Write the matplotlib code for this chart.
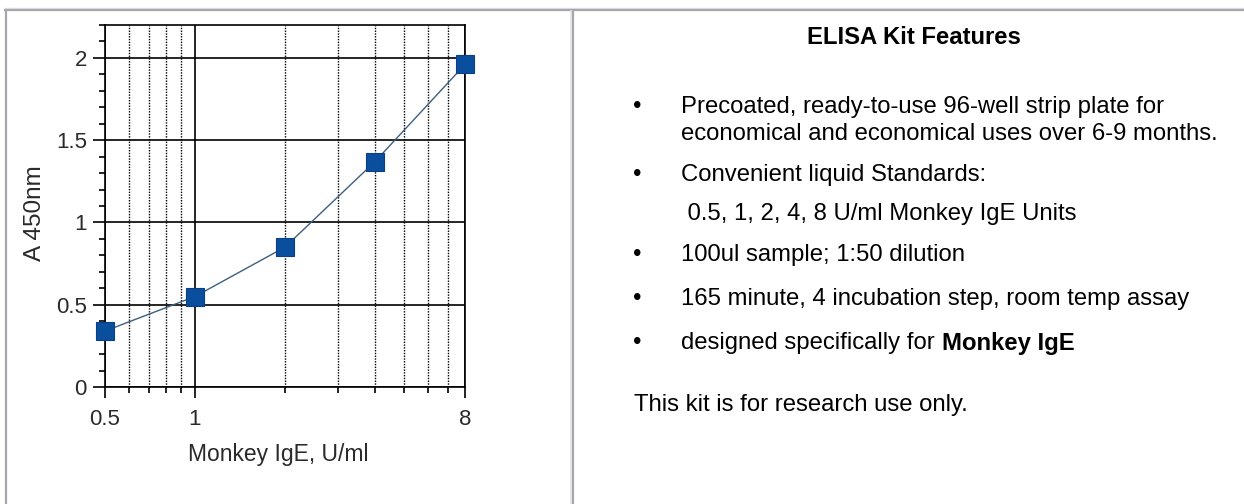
import matplotlib.pyplot as plt
from matplotlib.ticker import FixedLocator, NullFormatter, MultipleLocator
from matplotlib.lines import Line2D

# standard curve
conc = [0.5, 1, 2, 4, 8]
od450 = [0.34, 0.55, 0.85, 1.37, 1.96]

x_major = [0.5, 1, 8]
x_minor = [0.6, 0.7, 0.8, 0.9, 2, 3, 4, 5, 6, 7]
x_ticklabels = ['0.5', '1', '8']
y_ticks = [0, 0.5, 1, 1.5, 2]
y_ticklabels = ['0', '0.5', '1', '1.5', '2']

title = 'ELISA Kit Features'
bullet_lines = [
    ['Precoated, ready-to-use 96-well strip plate for',
     'economical and economical uses over 6-9 months.'],
    ['Convenient liquid Standards:'],
]
standards_line = ' 0.5, 1, 2, 4, 8 U/ml Monkey IgE Units'
more_bullets = ['100ul sample; 1:50 dilution',
                '165 minute, 4 incubation step, room temp assay']
last_bullet = ('designed specifically for', 'Monkey IgE')
footer = 'This kit is for research use only.'

W, H = 1244, 504
plt.rcParams['font.family'] = ['Liberation Sans', 'DejaVu Sans']
fig = plt.figure(figsize=(W / 100, H / 100), dpi=100)


def fx(x):
    return x / W


def fy(y):
    return 1 - y / H


# table borders
gray = '#a6a6ae'
light = '#e4e4e8'
fig.add_artist(Line2D([fx(5), 1], [fy(8), fy(8)], color=light, lw=1))
fig.add_artist(Line2D([fx(5), 1], [fy(10), fy(10)], color=gray, lw=1.6))
fig.add_artist(Line2D([fx(6), fx(6)], [fy(10), 0], color=gray, lw=1.6))
fig.add_artist(Line2D([fx(570.5), fx(570.5)], [fy(11), 0], color=light, lw=1.2))
fig.add_artist(Line2D([fx(572.5), fx(572.5)], [fy(11), 0], color=gray, lw=1.6))

# chart
ax = fig.add_axes([fx(105), fy(387), 360 / W, 362 / H])
ax.plot(conc, od450, color='#3d5f7f', lw=1, marker='s', ms=12.5,
        mfc='#0a4e9e', mec='#0a3f85', mew=0.8, clip_on=False, zorder=5)
ax.set_xscale('log')
ax.set_xlim(0.5, 8)
ax.set_ylim(0, 2.2)
ax.xaxis.set_major_locator(FixedLocator(x_major))
ax.xaxis.set_minor_locator(FixedLocator(x_minor))
ax.xaxis.set_minor_formatter(NullFormatter())
ax.set_xticklabels(x_ticklabels)
ax.set_yticks(y_ticks)
ax.set_yticklabels(y_ticklabels)
ax.yaxis.set_minor_locator(MultipleLocator(0.1))

ax.grid(which='major', axis='both', color='black', lw=1.2)
ax.grid(which='minor', axis='x', color='black', lw=1, ls=(0, (1, 1)))
for s in ax.spines.values():
    s.set_linewidth(1.2)
ax.tick_params(which='major', length=9, width=1.2, labelsize=16,
               labelcolor='#2a2a2a', pad=4)
ax.tick_params(axis='x', which='major', length=8, pad=8)
ax.tick_params(which='minor', length=4, width=1.2)
ax.set_xlabel('Monkey IgE, U/ml', fontsize=16.5, color='#2a2a2a')
ax.set_ylabel('A 450nm', fontsize=17.5, color='#2a2a2a')
ax.xaxis.set_label_coords(0.48, -0.155)
ax.yaxis.set_label_coords(-0.165, 0.48)

# features text
fs = 17.2
fig.text(fx(914), fy(35), title, fontsize=fs, weight='bold',
         ha='center', va='center_baseline')
ys = [105, 173]
for y0, lines in zip(ys, bullet_lines):
    fig.text(fx(637), fy(y0), '\u2022', fontsize=fs, ha='center',
             va='center_baseline')
    for i, ln in enumerate(lines):
        fig.text(fx(681), fy(y0 + 27 * i), ln, fontsize=fs,
                 va='center_baseline')
fig.text(fx(681), fy(211), standards_line, fontsize=fs, va='center_baseline')
for y0, ln in zip([253, 296], more_bullets):
    fig.text(fx(637), fy(y0), '\u2022', fontsize=fs, ha='center',
             va='center_baseline')
    fig.text(fx(681), fy(y0), ln, fontsize=fs, va='center_baseline')

fig.text(fx(637), fy(341), '\u2022', fontsize=fs, ha='center',
         va='center_baseline')
t = fig.text(fx(681), fy(341), last_bullet[0], fontsize=fs,
             va='center_baseline')
bb = t.get_window_extent(fig.canvas.get_renderer())
fig.text((bb.x1 + 7) / W, fy(341), last_bullet[1], fontsize=fs,
         weight='bold', va='center_baseline')

fig.text(fx(634), fy(402), footer, fontsize=fs, va='center_baseline')

fig.savefig('out.png', dpi=100)
